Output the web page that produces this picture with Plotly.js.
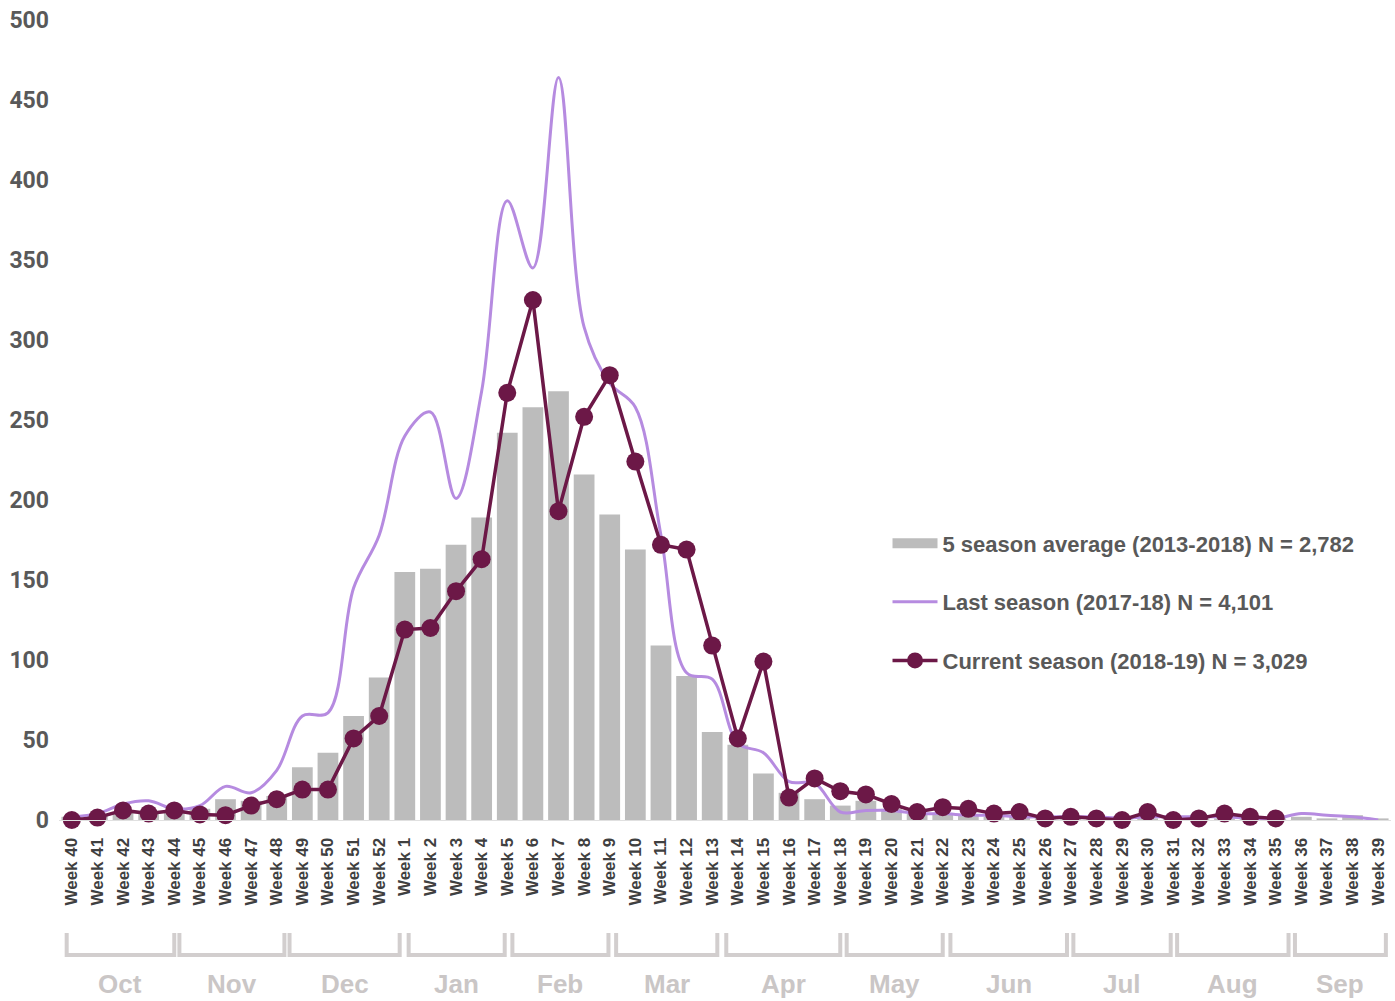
<!DOCTYPE html>
<html>
<head>
<meta charset="utf-8">
<script src="https://cdn.plot.ly/plotly-3.0.1.min.js"></script>
<style>html,body{margin:0;padding:0;background:#fff;}#chart{width:1395px;height:1001px;}</style>
</head>
<body>
<div id="chart"></div>
<script>
const weeks = ['Week 40','Week 41','Week 42','Week 43','Week 44','Week 45','Week 46','Week 47','Week 48','Week 49','Week 50','Week 51','Week 52',
  'Week 1','Week 2','Week 3','Week 4','Week 5','Week 6','Week 7','Week 8','Week 9','Week 10','Week 11','Week 12','Week 13',
  'Week 14','Week 15','Week 16','Week 17','Week 18','Week 19','Week 20','Week 21','Week 22','Week 23','Week 24','Week 25','Week 26',
  'Week 27','Week 28','Week 29','Week 30','Week 31','Week 32','Week 33','Week 34','Week 35','Week 36','Week 37','Week 38','Week 39'];

const avg5Season = [2,3,5,5,6,7,13,12,15,33,42,65,89,
  155,157,172,189,242,258,268,216,191,169,109,90,55,
  47,29,17,13,9,12,7,4,4,3,2,2,2,
  2,1,1,1,1,1,1,1,1,2,1,3,1];

const lastSeason = [2,4,10,12,7,9,21,17,31,65,67,145,178,
  240,255,201,268,387,345,464,308,273,258,178,92,88,
  48,42,24,23,5,6,6,4,4,3,3,2,2,
  2,2,1,2,2,2,2,1,1,4,3,2,0];

const currentSeason = [0,1.5,6,4,6,3.5,3,9,13,19,19,51,65,
  119,120,143,163,267,325,193,252,278,224,172,169,109,
  51,99,14,26,18,16,10,5,8,7,4,5,1,
  2,1,0,5,0,1,4,2,1,null,null,null,null];

const seriesNames = ['5 season average (2013-2018) N = 2,782','Last season (2017-18) N = 4,101','Current season (2018-19) N = 3,029'];

const months = ['Oct','Nov','Dec','Jan','Feb','Mar','Apr','May','Jun','Jul','Aug','Sep'];
// bracket extents under the axis, in week-index units (layout decoration)
const bracketFrom = [-0.2,4.2,8.5,13.15,17.2,21.25,25.55,30.25,34.3,39.1,43.15,47.75];
const bracketTo   = [4.0,8.3,12.8,16.9,20.95,25.2,30.0,34.0,38.85,42.9,47.5,51.3];

const textFont = '"Liberation Sans", Arial, sans-serif';
const nCat = weeks.length;
const toPaper = i => (i + 0.5) / nCat;
const barColor = '#bcbcbc';

const traces = [
  {type:'bar', x:weeks, y:avg5Season, name:seriesNames[0], showlegend:false,
   marker:{color:barColor}, hoverinfo:'skip'},
  // legend key for the bars (wide grey block as in the original)
  {type:'scatter', mode:'lines', x:[null], y:[null], name:seriesNames[0], legendgroup:'a',
   line:{color:barColor, width:15}},
  {type:'scatter', mode:'lines', x:weeks, y:lastSeason, name:seriesNames[1], legendgroup:'b',
   line:{color:'#b68be0', width:3, shape:'spline', smoothing:1}, cliponaxis:false},
  {type:'scatter', mode:'lines+markers', x:weeks, y:currentSeason, name:seriesNames[2], legendgroup:'c',
   line:{color:'#6c1847', width:3.5}, marker:{size:18, color:'#6c1847'}, cliponaxis:false}
];

const shapes = [];
const annotations = [];
const yTop = (820-933)/800, yBot = (820-955)/800, yLab = (820-984)/800;
months.forEach((m, k) => {
  const x0 = toPaper(bracketFrom[k]), x1 = toPaper(bracketTo[k]);
  shapes.push({type:'path', xref:'paper', yref:'paper',
    path:`M ${x0},${yTop} L ${x0},${yBot} L ${x1},${yBot} L ${x1},${yTop}`,
    line:{color:'#d2cece', width:4}});
  annotations.push({xref:'paper', yref:'paper', x:(x0+x1)/2, y:yLab, text:m, showarrow:false,
    xanchor:'center', yanchor:'middle',
    font:{family:textFont, size:26, color:'#cac6c6', weight:'bold'}});
});

const layout = {
  width:1395, height:1001,
  margin:{l:59, r:4, t:20, b:181},
  paper_bgcolor:'#ffffff', plot_bgcolor:'#ffffff',
  bargap:0.19,
  showlegend:true,
  legend:{x:0.622, xanchor:'left', y:0.372, yanchor:'top', orientation:'v',
    traceorder:'grouped', tracegroupgap:27, itemwidth:45,
    bgcolor:'rgba(0,0,0,0)',
    font:{family:textFont, size:22, color:'#595959', weight:'bold'}},
  xaxis:{type:'category', categoryorder:'array', categoryarray:weeks, range:[-0.5, 51.5], tickangle:-90,
    showgrid:false, zeroline:false,
    showline:true, linecolor:'#e0e0e0', linewidth:1, ticks:'', ticklabelstandoff:10,
    tickfont:{family:textFont, size:17, color:'#404040', weight:'bold'}},
  yaxis:{range:[0,500], dtick:50, showgrid:false, zeroline:false, showline:false, ticks:'',
    ticklabelstandoff:9,
    tickfont:{family:'Roboto, "Liberation Sans", sans-serif', size:23, color:'#595959', weight:'bold'}},
  shapes:shapes,
  annotations:annotations
};

Plotly.newPlot('chart', traces, layout, {displayModeBar:false, staticPlot:true});
</script>
</body>
</html>
